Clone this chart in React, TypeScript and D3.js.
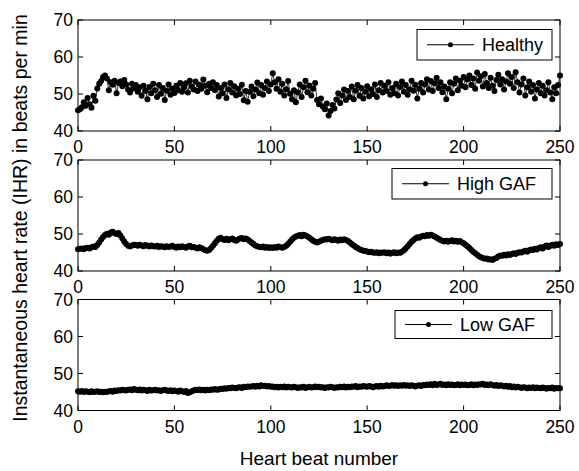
import React from "react";
import * as d3 from "d3";

// Beat numbers 0..250
const beats: number[] = d3.range(0, 251);

const healthy: number[] = [
  45.6, 45.9, 46.4, 47.8, 46.8, 48.9, 47.2, 46.3, 49.5, 48.2,
  51.5, 52.8, 53.5, 54.6, 55.0, 54.2, 51.0, 53.2, 52.5, 53.6,
  50.2, 53.0, 53.4, 52.1, 53.8, 52.6, 51.2, 50.4, 52.8, 51.5,
  52.4, 50.6, 51.8, 49.5, 52.2, 50.8, 48.6, 51.9, 50.2, 52.8,
  51.0, 49.2, 52.4, 50.1, 51.6, 48.4, 50.9, 52.6, 49.8, 51.4,
  50.3, 52.2, 51.0, 53.0, 50.6, 51.8, 52.9, 50.4, 53.6, 52.0,
  51.2, 53.4, 50.8, 52.5, 51.4, 53.9, 52.2, 50.5, 52.8, 51.6,
  53.2, 51.0, 52.4, 49.3, 51.6, 50.2, 52.6, 48.9, 51.3, 53.0,
  50.4, 52.1, 49.6, 51.4, 50.0, 52.5, 48.3, 50.8, 47.9, 50.6,
  52.0, 49.4, 51.2, 53.1, 50.2, 52.4, 49.8, 51.6, 53.4, 50.8,
  52.6, 55.6, 53.2, 51.4, 54.0, 50.6, 52.8, 49.6, 51.3, 53.5,
  50.1, 48.6, 51.0, 47.8, 50.4, 52.6, 49.2, 51.8, 53.6, 50.5,
  52.3, 49.6, 51.4, 53.0, 48.4, 47.2, 48.8, 46.6, 45.9, 47.4,
  44.2, 45.4, 47.0, 46.1, 48.5, 50.2, 47.6, 49.6, 51.2, 48.4,
  50.8, 49.2, 52.0, 48.6, 50.9, 52.4, 49.5, 51.6, 48.8, 50.6,
  52.1, 49.4, 51.3, 50.0, 52.6, 49.2, 51.0, 53.0, 50.4, 52.2,
  50.8, 53.2, 49.8, 51.6, 50.2, 52.8, 49.6, 51.9, 53.4, 50.6,
  52.4, 49.8, 51.3, 53.6, 50.9, 52.5, 48.8, 51.4, 53.0, 50.4,
  52.6, 54.0, 51.2, 53.5, 50.8, 52.9, 54.4, 51.6, 53.2, 50.5,
  52.0, 48.6, 51.4, 53.2, 50.2, 52.8, 54.2, 51.0, 53.6, 52.2,
  54.6, 51.8, 53.9, 55.0, 52.4, 54.2, 51.4, 55.8, 53.6, 54.8,
  52.0, 55.4, 53.0, 51.6, 54.4, 52.2, 50.8, 53.8, 55.2, 52.6,
  54.0, 51.2, 53.4, 55.6, 52.8, 54.6, 51.6, 55.9, 53.2, 50.4,
  52.6, 54.2, 49.6, 51.8, 53.4, 50.6, 52.4, 48.8, 51.2, 53.0,
  50.2, 52.2, 49.6, 51.0, 53.2, 50.4, 48.6, 51.8, 50.2, 52.4,
  55.0,
];

const highGAF: number[] = [
  45.9, 46.0, 46.1, 45.9, 46.2, 46.3, 46.1, 46.4, 46.6, 46.5,
  47.0, 47.7, 48.5, 49.2, 49.7, 50.1, 49.8, 50.4, 50.6, 50.2,
  50.0, 50.3, 49.6, 48.8, 48.0, 47.3, 46.8, 46.6, 46.9, 47.1,
  47.0, 46.8, 47.1, 46.9, 46.7, 47.0, 46.8, 46.6, 46.9, 46.7,
  46.6, 46.8, 46.5, 46.7, 46.6, 46.4, 46.7, 46.5, 46.6, 46.8,
  46.5, 46.3, 46.6, 46.4, 46.7, 46.5, 46.3, 46.6, 46.8, 46.4,
  46.5, 46.3, 46.1, 46.4, 46.2, 45.9, 45.6, 45.5, 45.7, 46.2,
  46.8, 47.5, 48.2, 48.7, 49.0, 48.6, 48.4, 48.7, 48.3, 48.6,
  48.8, 48.4, 48.2, 48.5, 48.8, 48.9, 48.6, 48.8, 48.5, 48.1,
  47.7, 47.3, 46.9, 46.7, 46.5, 46.4, 46.6, 46.3, 46.5, 46.2,
  46.4, 46.2, 46.5, 46.3, 46.6, 46.4, 46.3, 46.5, 46.8, 47.3,
  47.9, 48.5, 49.0, 49.3, 49.5, 49.7, 49.4, 49.8, 49.6, 49.3,
  49.0, 48.6, 48.2, 47.9, 47.7, 47.9, 48.2, 48.4, 48.6, 48.5,
  48.7, 48.5, 48.3, 48.6, 48.4, 48.2, 48.5, 48.3, 48.6, 48.4,
  48.1, 47.7, 47.3, 46.9, 46.5, 46.2, 45.9, 45.7, 45.5, 45.4,
  45.3, 45.1, 45.2, 45.0, 44.9, 45.1, 44.8, 45.0, 44.9, 45.1,
  44.8, 45.0, 44.7, 44.9, 45.1, 44.8, 45.0, 44.9, 45.2, 45.6,
  46.1, 46.7, 47.3, 47.9, 48.4, 48.8, 49.1, 49.0, 49.3, 49.5,
  49.4, 49.7, 49.5, 49.8, 49.6, 49.3, 49.0, 48.7, 48.4, 48.2,
  48.0, 48.2, 47.9, 48.1, 48.3, 48.0, 48.2, 47.9, 48.1, 47.8,
  47.5, 47.1, 46.7, 46.2, 45.7, 45.2, 44.8, 44.4, 44.0, 43.7,
  43.5, 43.3, 43.4, 43.1, 43.2, 43.0, 43.3, 43.5, 43.9, 44.2,
  44.1, 44.4, 44.2, 44.5, 44.3, 44.6, 44.8, 44.6, 44.9, 45.1,
  45.0, 45.3, 45.5, 45.2, 45.6, 45.8, 45.7, 46.0, 45.8, 46.2,
  46.4, 46.1, 46.6, 46.9, 46.5, 46.8, 47.1, 46.8, 47.2, 47.0,
  47.3,
];

const lowGAF: number[] = [
  45.2, 45.1, 45.3, 45.0, 45.2, 45.1, 44.9, 45.2, 45.0, 45.1,
  45.2, 45.0, 45.1, 44.9, 45.1, 45.0, 45.2, 45.3, 45.1, 45.4,
  45.3, 45.5, 45.4, 45.6, 45.5, 45.4, 45.6, 45.7, 45.5, 45.8,
  45.6, 45.5, 45.7, 45.4, 45.6, 45.5, 45.3, 45.6, 45.4, 45.5,
  45.6, 45.4, 45.5, 45.3, 45.5, 45.6, 45.4, 45.3, 45.5, 45.2,
  45.4, 45.3, 45.1, 45.4, 45.2, 45.0, 45.3, 44.7, 44.9, 45.2,
  45.4, 45.6, 45.5, 45.7, 45.5, 45.6, 45.4, 45.6, 45.5, 45.7,
  45.6, 45.8, 45.6, 45.7, 45.9, 45.8, 46.0, 45.9, 46.1, 46.0,
  46.2, 46.1, 46.0, 46.2, 46.3, 46.1, 46.4, 46.3, 46.5, 46.4,
  46.5, 46.6, 46.4, 46.7, 46.5, 46.8, 46.6, 46.7, 46.5, 46.6,
  46.4, 46.5, 46.3, 46.4, 46.2, 46.4, 46.3, 46.5, 46.2, 46.4,
  46.3, 46.2, 46.4, 46.3, 46.1, 46.3, 46.2, 46.4, 46.1, 46.3,
  46.4, 46.2, 46.3, 46.5, 46.3, 46.4, 46.2, 46.3, 46.1, 46.3,
  46.2, 46.4, 46.3, 46.1, 46.3, 46.2, 46.4, 46.3, 46.5, 46.2,
  46.4, 46.3, 46.5, 46.4, 46.6, 46.3, 46.5, 46.4, 46.6, 46.5,
  46.4, 46.6, 46.5, 46.3, 46.5, 46.6, 46.4, 46.7, 46.5, 46.6,
  46.8, 46.6, 46.7, 46.9, 46.7, 46.8, 46.6, 46.8, 46.7, 46.9,
  46.7, 46.8, 46.6, 46.8, 46.7, 46.5, 46.7, 46.8, 46.6, 46.9,
  46.8, 47.0, 46.9, 47.1, 46.8, 47.2, 46.9, 47.0, 47.2, 46.9,
  47.0, 46.8, 47.1, 46.9, 47.0, 46.8, 46.9, 47.1, 46.8, 47.0,
  46.9, 47.0, 46.8, 46.9, 47.1, 46.8, 47.0, 46.9, 47.1, 47.0,
  47.2, 46.9, 47.0, 46.8, 47.1, 46.9, 46.7, 46.9, 46.6, 46.8,
  46.7, 46.5, 46.7, 46.4, 46.6, 46.3, 46.5, 46.2, 46.4, 46.3,
  46.1, 46.3, 46.2, 46.0, 46.2, 46.1, 46.3, 46.0, 46.2, 46.1,
  46.0, 46.2, 46.1, 45.9, 46.1, 46.0, 46.2, 45.9, 46.1, 46.0,
  46.0,
];

const seriesNames: string[] = ["Healthy", "High GAF", "Low GAF"];
const xTicks: number[] = [0, 50, 100, 150, 200, 250];
const yTicks: number[] = [40, 50, 60, 70];
const xDomain: [number, number] = [0, 250];
const yDomain: [number, number] = [40, 70];

const FONT = "'Liberation Sans', Arial, Helvetica, sans-serif";
const W = 579;
const H = 471;
const LEFT = 78;
const RIGHT = 560;
const PANEL_TOPS = [20, 160, 299.5];
const PANEL_H = 111;
const LEGEND_LEFTS = [417, 392, 395];
const LEGEND_RIGHT = 552;
const LEGEND_TOP_OFF = [9.5, 8.5, 11];
const LEGEND_H = [30.5, 30.5, 28];

const allSeries = [healthy, highGAF, lowGAF];

function Panel({ idx }: { idx: number }) {
  const top = PANEL_TOPS[idx];
  const x = d3.scaleLinear().domain(xDomain).range([LEFT, RIGHT]);
  const y = d3.scaleLinear().domain(yDomain).range([top + PANEL_H, top]);
  const data = allSeries[idx];
  const line = d3
    .line<number>()
    .x((_, i) => x(beats[i]))
    .y((d) => y(d));
  const lx0 = LEGEND_LEFTS[idx];
  const ly0 = top + LEGEND_TOP_OFF[idx];
  const lh = LEGEND_H[idx];
  const lcy = ly0 + lh / 2;
  const tickLen = 5;
  return (
    <g>
      <rect x={LEFT} y={top} width={RIGHT - LEFT} height={PANEL_H} fill="white" stroke="none" />
      <path d={line(data) || ""} fill="none" stroke="black" strokeWidth={0.8} />
      {data.map((d, i) => (
        <circle key={i} cx={x(beats[i])} cy={y(d)} r={3} fill="black" />
      ))}
      <rect x={LEFT} y={top} width={RIGHT - LEFT} height={PANEL_H} fill="none" stroke="black" strokeWidth={1} />
      {xTicks.map((t) => (
        <g key={"x" + t}>
          <line x1={x(t)} x2={x(t)} y1={top + PANEL_H} y2={top + PANEL_H - tickLen} stroke="black" />
          <line x1={x(t)} x2={x(t)} y1={top} y2={top + tickLen} stroke="black" />
          <text x={x(t)} y={top + PANEL_H + 22} textAnchor="middle" fontFamily={FONT} fontSize={17.5}>
            {t}
          </text>
        </g>
      ))}
      {yTicks.map((t) => (
        <g key={"y" + t}>
          <line x1={LEFT} x2={LEFT + tickLen} y1={y(t)} y2={y(t)} stroke="black" />
          <line x1={RIGHT} x2={RIGHT - tickLen} y1={y(t)} y2={y(t)} stroke="black" />
          <text x={LEFT - 5} y={y(t) + 6} textAnchor="end" fontFamily={FONT} fontSize={17.5}>
            {t}
          </text>
        </g>
      ))}
      <rect x={lx0} y={ly0} width={LEGEND_RIGHT - lx0} height={lh} fill="white" stroke="black" strokeWidth={1} />
      <line x1={lx0 + 10} x2={lx0 + 57} y1={lcy} y2={lcy} stroke="black" strokeWidth={1} />
      <circle cx={lx0 + 33.5} cy={lcy} r={2.5} fill="black" />
      <text x={lx0 + 65} y={lcy + 6.5} fontFamily={FONT} fontSize={18}>
        {seriesNames[idx]}
      </text>
    </g>
  );
}

export default function App() {
  return (
    <div style={{ position: "absolute", left: 0, top: 0, background: "white" }}>
      <svg width={W} height={H} viewBox={`0 0 ${W} ${H}`} style={{ display: "block" }}>
        <rect x={0} y={0} width={W} height={H} fill="white" />
        {[0, 1, 2].map((i) => (
          <Panel key={i} idx={i} />
        ))}
        <text
          transform={`translate(27, 218) rotate(-90)`}
          textAnchor="middle"
          fontFamily={FONT}
          fontSize={19.5}
        >
          Instantaneous heart rate (IHR) in beats per min
        </text>
        <text x={(LEFT + RIGHT) / 2} y={465} textAnchor="middle" fontFamily={FONT} fontSize={19}>
          Heart beat number
        </text>
      </svg>
    </div>
  );
}
